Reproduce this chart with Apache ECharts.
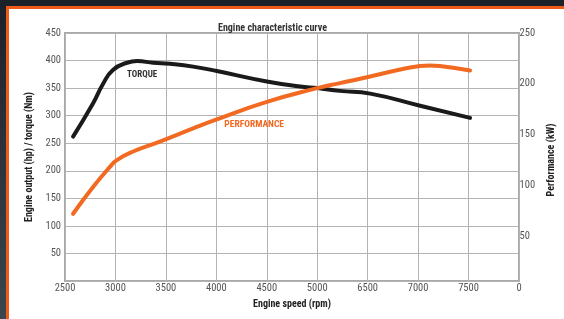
<!DOCTYPE html>
<html lang="en">
<head>
    <meta charset="utf-8">
    <title>Engine characteristic curve</title>
    <script src="https://cdn.jsdelivr.net/npm/echarts@6/dist/echarts.min.js"></script>
    <style>
        html, body { margin: 0; height: 100%; }
        body { background: linear-gradient(#1b2129, #3d454c); overflow: hidden; }
        #frame { position: absolute; left: 6px; top: 6px; width: 555px; height: 310px;
                 border-left: 3px solid #ef5a1a; border-top: 3px solid #ef5a1a; background: #fff; }
        #chart { position: absolute; left: 0; top: 0; width: 564px; height: 319px; }
    </style>
</head>
<body>
<div id="frame"></div>
<div id="chart"></div>
<script type="text/javascript">
    // x positions are gridline indexes, the labels are what the chart prints under them
    var rpmLabels = ['2500', '3000', '3500', '4000', '4500', '5000', '6500', '7000', '7500', '0'];

    var torque = [
        [0.16, 262], [0.56, 323], [0.75, 357], [0.95, 383], [1.23, 396], [1.43, 399],
        [1.75, 396], [2.08, 394], [2.54, 389], [3.01, 381], [4.0, 362], [4.66, 353],
        [5.0, 350], [5.45, 345], [6.05, 340], [7.04, 318], [8.03, 296]
    ];
    var performance = [
        [0.16, 122], [0.56, 171], [0.89, 207], [1.02, 219], [1.35, 235], [1.88, 253],
        [2.54, 277], [2.94, 291], [4.0, 325], [5.0, 350], [5.45, 359], [6.05, 371],
        [6.6, 383], [7.04, 390], [7.24, 391], [7.43, 390], [8.03, 382]
    ];
    var torqueTag = [1.53, 375];
    var performanceTag = [3.75, 284];

    var narrow = "'Roboto Condensed', 'Liberation Sans Narrow', sans-serif";

    var myChart = echarts.init(document.getElementById('chart'));

    var option = {
        animation: false,
        title: {
            text: 'Engine characteristic curve',
            left: 213,
            top: 18,
            textStyle: { fontFamily: narrow, fontSize: 10, fontWeight: 'bold', color: '#333' }
        },
        grid: [
            { left: 65, right: 45, top: 33, bottom: 38, show: true,
              borderColor: '#a9a9a9', borderWidth: 2, backgroundColor: 'transparent' },
            { left: 65, right: 45, top: 33, bottom: 32 }
        ],
        xAxis: [
            {
                type: 'value', gridIndex: 0, min: 0, max: 9, interval: 1,
                name: 'Engine speed (rpm)', nameLocation: 'middle', nameGap: 18,
                nameTextStyle: { fontFamily: narrow, fontSize: 10, fontWeight: 'bold', color: '#222' },
                axisLine: { show: false },
                axisTick: { show: false },
                axisLabel: {
                    margin: 2, fontFamily: narrow, fontSize: 10.5, color: '#555',
                    formatter: function (v) { return rpmLabels[v]; }
                },
                splitLine: { lineStyle: { color: '#b3b3b3', width: 1 } }
            },
            { type: 'value', gridIndex: 1, min: 0, max: 9, show: false }
        ],
        yAxis: [
            {
                type: 'value', gridIndex: 0, min: 0, max: 450, interval: 50,
                name: 'Engine output (hp) / torque (Nm)', nameLocation: 'middle', nameGap: 30,
                nameTextStyle: { fontFamily: narrow, fontSize: 10, fontWeight: 'bold', color: '#222' },
                axisLine: { show: false },
                axisTick: { show: false },
                axisLabel: {
                    margin: 4, fontFamily: narrow, fontSize: 10.5, color: '#555',
                    formatter: function (v) { return v === 0 ? '' : v; }
                },
                splitLine: { lineStyle: { color: '#b3b3b3', width: 1 } }
            },
            {
                type: 'value', gridIndex: 1, position: 'right', min: 0, max: 250, interval: 50,
                name: 'Performance (kW)', nameLocation: 'middle', nameGap: 28,
                nameTextStyle: { fontFamily: narrow, fontSize: 10, fontWeight: 'bold', color: '#222' },
                axisLine: { show: false },
                axisTick: { show: false },
                splitLine: { show: false },
                axisLabel: {
                    margin: 2, fontFamily: narrow, fontSize: 10.5, color: '#555',
                    formatter: function (v) { return v === 0 ? '' : v; }
                }
            }
        ],
        series: [
            {
                name: 'Torque', type: 'line', xAxisIndex: 0, yAxisIndex: 0,
                data: torque, smooth: true, showSymbol: false,
                lineStyle: { color: '#1a1a1a', width: 4, cap: 'round' },
                markPoint: {
                    symbol: 'circle', symbolSize: 0,
                    data: [{ coord: torqueTag }],
                    label: { show: true, position: 'inside', formatter: 'TORQUE',
                             fontFamily: narrow, fontSize: 9, fontWeight: 'bold', color: '#333' }
                }
            },
            {
                name: 'Performance', type: 'line', xAxisIndex: 0, yAxisIndex: 0,
                data: performance, smooth: true, showSymbol: false,
                lineStyle: { color: '#f26a21', width: 4, cap: 'round' },
                markPoint: {
                    symbol: 'circle', symbolSize: 0,
                    data: [{ coord: performanceTag }],
                    label: { show: true, position: 'inside', formatter: 'PERFORMANCE',
                             fontFamily: narrow, fontSize: 9.5, fontWeight: 'bold', color: '#f26a21' }
                }
            }
        ]
    };

    myChart.setOption(option);
</script>
</body>
</html>
